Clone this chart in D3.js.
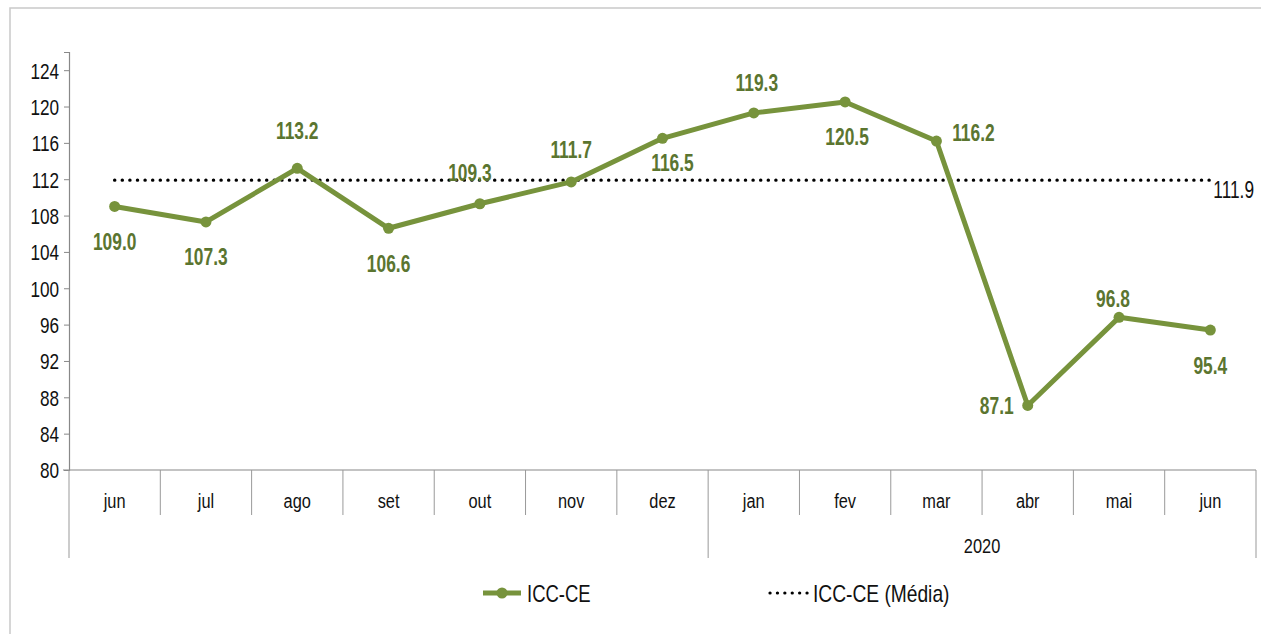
<!DOCTYPE html>
<html>
<head>
<meta charset="utf-8">
<script src="https://cdn.jsdelivr.net/npm/d3@7"></script>
<style>
  html, body { margin: 0; padding: 0; background: #fff; }
  svg { display: block; }
  text { font-family: "Liberation Sans Narrow", "Arial Narrow", "Liberation Sans", Arial, sans-serif; }
</style>
</head>
<body>
<svg id="chart" width="1261" height="634"></svg>
<script>
// ---- data ----
const months = ["jun", "jul", "ago", "set", "out", "nov", "dez", "jan", "fev", "mar", "abr", "mai", "jun"];
const years = [{ label: "", start: 0, end: 7 }, { label: "2020", start: 7, end: 13 }];
const iccValues = [109.0, 107.3, 113.2, 106.6, 109.3, 111.7, 116.5, 119.3, 120.5, 116.2, 87.1, 96.8, 95.4];
const iccMean = 111.9;
const yTicks = [80, 84, 88, 92, 96, 100, 104, 108, 112, 116, 120, 124];
const seriesNames = ["ICC-CE", "ICC-CE (Média)"];

// label placement (styling): offsets from point, px
const labelOffsets = [
  [0, 35], [0, 35], [0, -38], [0, 35], [-10, -31], [0, -32], [10, 24],
  [3, -30], [2, 35], [37, -8], [-31, 0], [-6, -19], [0, 35]
];

const lineColor = "#77933c";
const labelColor = "#5b7530";

const svg = d3.select("#chart");

// frame
svg.append("rect").attr("x", 10).attr("y", 8).attr("width", 1270).attr("height", 640)
  .attr("fill", "none").attr("stroke", "#c9c9c9").attr("stroke-width", 1.5);

const mLeft = 69, mRight = 1256, mTop = 52, mBottom = 470;

const x = d3.scaleBand().domain(d3.range(months.length)).range([mLeft, mRight]).paddingInner(0).paddingOuter(0);
const y = d3.scaleLinear().domain([80, 126]).range([mBottom, mTop]);
const cx = i => x(i) + x.bandwidth() / 2;

// y axis
const yAxis = d3.axisLeft(y).tickValues(yTicks).tickSize(5).tickPadding(5).tickFormat(d3.format("d"));
const gy = svg.append("g").attr("transform", `translate(${mLeft},0)`).call(yAxis);
gy.select(".domain").attr("stroke", "#888").attr("stroke-width", 1.2);
gy.selectAll(".tick line").attr("stroke", "#888");
gy.selectAll(".tick text").attr("font-size", 22).attr("fill", "#111").attr("dy", "0.36em")
  .attr("data-sx", 0.78);

// x axis line
svg.append("line").attr("x1", mLeft - 6).attr("x2", mRight).attr("y1", mBottom).attr("y2", mBottom)
  .attr("stroke", "#888").attr("stroke-width", 1.2);

// category separators
const sepShort = mBottom + 45, sepLong = mBottom + 88;
d3.range(months.length + 1).forEach(i => {
  const xx = i < months.length ? x(i) : mRight;
  const isGroup = years.some(g => g.start === i) || i === months.length;
  svg.append("line").attr("x1", xx).attr("x2", xx).attr("y1", mBottom)
    .attr("y2", isGroup ? sepLong : sepShort)
    .attr("stroke", "#999").attr("stroke-width", 1);
});

// month labels
svg.append("g").selectAll("text").data(months).join("text")
  .attr("x", (d, i) => cx(i)).attr("y", 500).attr("dy", "0.36em")
  .attr("text-anchor", "middle").attr("font-size", 21).attr("fill", "#111")
  .attr("data-sx", 0.78)
  .text(d => d);

// year labels
svg.append("g").selectAll("text").data(years.filter(g => g.label)).join("text")
  .attr("x", g => (x(g.start) + (g.end < months.length ? x(g.end) : mRight)) / 2)
  .attr("y", 545).attr("dy", "0.36em")
  .attr("text-anchor", "middle").attr("font-size", 21).attr("fill", "#111")
  .attr("data-sx", 0.78)
  .text(g => g.label);

// mean dotted line
svg.append("line")
  .attr("x1", cx(0)).attr("x2", cx(months.length - 1))
  .attr("y1", y(iccMean)).attr("y2", y(iccMean))
  .attr("stroke", "#000").attr("stroke-width", 3.4)
  .attr("stroke-dasharray", "0.1 7.5").attr("stroke-linecap", "round");
svg.append("text").attr("x", cx(months.length - 1) + 3).attr("y", y(iccMean) + 9)
  .attr("dy", "0.36em").attr("font-size", 24).attr("fill", "#111")
  .attr("data-sx", 0.72)
  .text(d3.format(".1f")(iccMean));

// series line
const line = d3.line().x((d, i) => cx(i)).y(d => y(d));
svg.append("path").datum(iccValues).attr("d", line)
  .attr("fill", "none").attr("stroke", lineColor).attr("stroke-width", 5)
  .attr("stroke-linejoin", "round");
svg.append("g").selectAll("circle").data(iccValues).join("circle")
  .attr("cx", (d, i) => cx(i)).attr("cy", d => y(d)).attr("r", 5.5)
  .attr("fill", lineColor);

// data labels
svg.append("g").selectAll("text").data(iccValues).join("text")
  .attr("x", (d, i) => cx(i) + labelOffsets[i][0])
  .attr("y", (d, i) => y(d) + labelOffsets[i][1])
  .attr("dy", "0.36em").attr("text-anchor", "middle")
  .attr("font-size", 23.5).attr("font-weight", "bold").attr("fill", labelColor)
  .attr("data-sx", 0.74)
  .text(d => d3.format(".1f")(d));

// legend
const lg = svg.append("g");
lg.append("line").attr("x1", 483).attr("x2", 521).attr("y1", 593).attr("y2", 593)
  .attr("stroke", lineColor).attr("stroke-width", 5);
lg.append("circle").attr("cx", 502).attr("cy", 593).attr("r", 5.5).attr("fill", lineColor);
lg.append("text").attr("x", 527).attr("y", 593).attr("dy", "0.36em").attr("font-size", 24)
  .attr("fill", "#111").attr("data-sx", 0.77).text(seriesNames[0]);
lg.append("line").attr("x1", 770).attr("x2", 808).attr("y1", 593).attr("y2", 593)
  .attr("stroke", "#000").attr("stroke-width", 3.2)
  .attr("stroke-dasharray", "0.1 7.3").attr("stroke-linecap", "round");
lg.append("text").attr("x", 813).attr("y", 593).attr("dy", "0.36em").attr("font-size", 24)
  .attr("fill", "#111").attr("data-sx", 0.8).text(seriesNames[1]);

// condense text horizontally (narrow face substitute)
svg.selectAll("text").each(function () {
  const sx = +this.getAttribute("data-sx") || 0.8;
  const tx = +this.getAttribute("x") || 0;
  const ty = +this.getAttribute("y") || 0;
  this.setAttribute("transform", `translate(${tx},${ty}) scale(${sx},1) translate(${-tx},${-ty})`);
});
</script>
</body>
</html>
